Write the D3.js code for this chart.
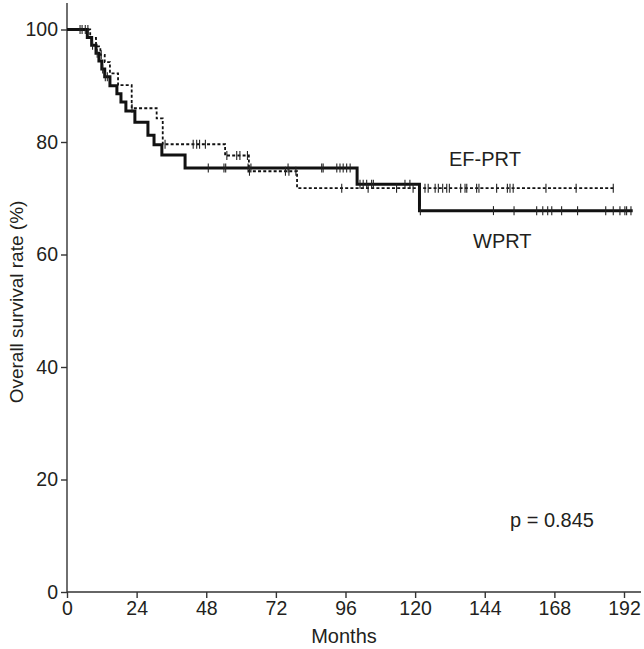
<!DOCTYPE html>
<html>
<head>
<meta charset="utf-8">
<script src="https://cdn.jsdelivr.net/npm/d3@7"></script>
<style>
  html, body { margin: 0; padding: 0; background: #fff; }
  svg { display: block; font-family: "Liberation Sans", Arial, sans-serif; }
</style>
</head>
<body>
<svg id="chart" width="644" height="649"></svg>
<script>
// ---- Data ----
const xTicks = [0, 24, 48, 72, 96, 120, 144, 168, 192];
const yTicks = [0, 20, 40, 60, 80, 100];

// WPRT (solid) step curve: time (months) and survival (%) after each step
const wprtTimes = [0, 7, 8.5, 10, 11, 12, 13, 14.8, 17.2, 18.6, 20.3, 23.4, 27.9, 30, 32.7, 40.7, 100, 121.5, 195];
const wprtSurv  = [100, 98.6, 97.2, 95.8, 94.4, 93, 91.6, 90, 88.6, 87.1, 85.5, 83.5, 81.2, 79.5, 77.7, 75.4, 72.5, 67.8, 67.8];
const wprtCensor = [4.5, 6.3, 8.8, 10.4, 12.3, 13.2, 13.9, 48.7, 54.1, 54.7, 62.4, 63.4, 76.2, 87.8, 88.3, 93, 94.1, 95.2, 96.4, 97.6,
  101, 102.1, 103.3, 105, 105.6, 116.5, 118.2, 121.8, 147, 154.1, 161.9, 164, 165.7, 167.1, 170.5, 176, 185.7, 188.3, 190.6, 192.3, 192.9, 194.4];

// EF-PRT (dotted) step curve
const efTimes = [0, 8, 10, 11.5, 13, 14.8, 17.6, 22.3, 30.9, 33, 54.5, 62.7, 79.3, 188.5];
const efSurv  = [100, 98.5, 97, 95.5, 94.2, 92.2, 90.1, 86, 84.2, 79.6, 77.6, 74.8, 71.8, 71.8];
const efCensor = [5.2, 7.2, 11.8, 22.4, 33.8, 43.5, 44.7, 45.7, 47.7, 55.1, 58.5, 59.6, 62.2, 62.9, 75.3, 76.5, 78.9,
  94.7, 103.8, 113.6, 119.3, 123.4, 124.5, 126.9, 128, 129.5, 130.9, 131.8, 135.7, 137.2, 137.8, 141.2, 142,
  148.1, 151.8, 152.7, 153.8, 165.1, 175.5, 188.3];

const labels = { ef: "EF-PRT", wprt: "WPRT", p: "p = 0.845", xTitle: "Months", yTitle: "Overall survival rate (%)" };

// ---- Drawing ----
const svg = d3.select("#chart");
const x = d3.scaleLinear().domain([0, 192]).range([67, 624]);
const y = d3.scaleLinear().domain([0, 100]).range([592, 29.5]);
const axisColor = "#333";
const textColor = "#231f20";
const font = "'Liberation Sans', Arial, sans-serif";

// axes lines
svg.append("line").attr("x1", x(0)).attr("x2", x(0)).attr("y1", 3).attr("y2", y(0))
  .attr("stroke", axisColor).attr("stroke-width", 1.4);
svg.append("line").attr("x1", x(0)).attr("x2", 641).attr("y1", y(0)).attr("y2", y(0))
  .attr("stroke", axisColor).attr("stroke-width", 1.4);

const xAxis = svg.append("g").attr("transform", `translate(0,${y(0)})`)
  .call(d3.axisBottom(x).tickValues(xTicks).tickSize(6).tickPadding(3).tickFormat(d3.format("d")));
xAxis.select(".domain").remove();
xAxis.selectAll("line").attr("stroke", axisColor).attr("stroke-width", 1.4);
xAxis.selectAll("text").attr("font-size", 19.5).attr("fill", textColor).attr("font-family", font);

const yAxis = svg.append("g").attr("transform", `translate(${x(0)},0)`)
  .call(d3.axisLeft(y).tickValues(yTicks).tickSize(6).tickPadding(3).tickFormat(d3.format("d")));
yAxis.select(".domain").remove();
yAxis.selectAll("line").attr("stroke", axisColor).attr("stroke-width", 1.4);
yAxis.selectAll("text").attr("font-size", 19.5).attr("fill", textColor).attr("font-family", font);

// axis titles
svg.append("text").attr("x", 344).attr("y", 643).attr("text-anchor", "middle")
  .attr("font-size", 20).attr("fill", textColor).text(labels.xTitle);
svg.append("text").attr("transform", "translate(23,302) rotate(-90)").attr("text-anchor", "middle")
  .attr("font-size", 19).attr("fill", textColor).text(labels.yTitle);

// step helpers
function stepAt(times, surv, t) {
  let v = surv[0];
  for (let i = 0; i < times.length; i++) { if (times[i] <= t) v = surv[i]; }
  return v;
}
const line = d3.line().x(d => x(d[0])).y(d => y(d[1])).curve(d3.curveStepAfter);

// EF-PRT dotted
svg.append("path").datum(efTimes.map((t, i) => [t, efSurv[i]]))
  .attr("d", line).attr("fill", "none").attr("stroke", "#111")
  .attr("stroke-width", 1.8).attr("stroke-dasharray", "3,2.2");

// WPRT solid
svg.append("path").datum(wprtTimes.map((t, i) => [t, wprtSurv[i]]))
  .attr("d", line).attr("fill", "none").attr("stroke", "#111")
  .attr("stroke-width", 3).attr("stroke-linejoin", "miter");

// censor marks
function censor(times, surv, pts) {
  svg.append("g").selectAll("line").data(pts).join("line")
    .attr("x1", d => x(d)).attr("x2", d => x(d))
    .attr("y1", d => y(stepAt(times, surv, d)) - 4.5)
    .attr("y2", d => y(stepAt(times, surv, d)) + 4.5)
    .attr("stroke", "#222").attr("stroke-width", 1.1);
}
censor(efTimes, efSurv, efCensor);
censor(wprtTimes, wprtSurv, wprtCensor);

// labels
svg.append("text").attr("x", 449).attr("y", 166).attr("font-size", 20).attr("fill", textColor).text(labels.ef);
svg.append("text").attr("x", 473).attr("y", 248).attr("font-size", 20).attr("fill", textColor).text(labels.wprt);
svg.append("text").attr("x", 510).attr("y", 527).attr("font-size", 20).attr("fill", textColor).text(labels.p);
</script>
</body>
</html>
